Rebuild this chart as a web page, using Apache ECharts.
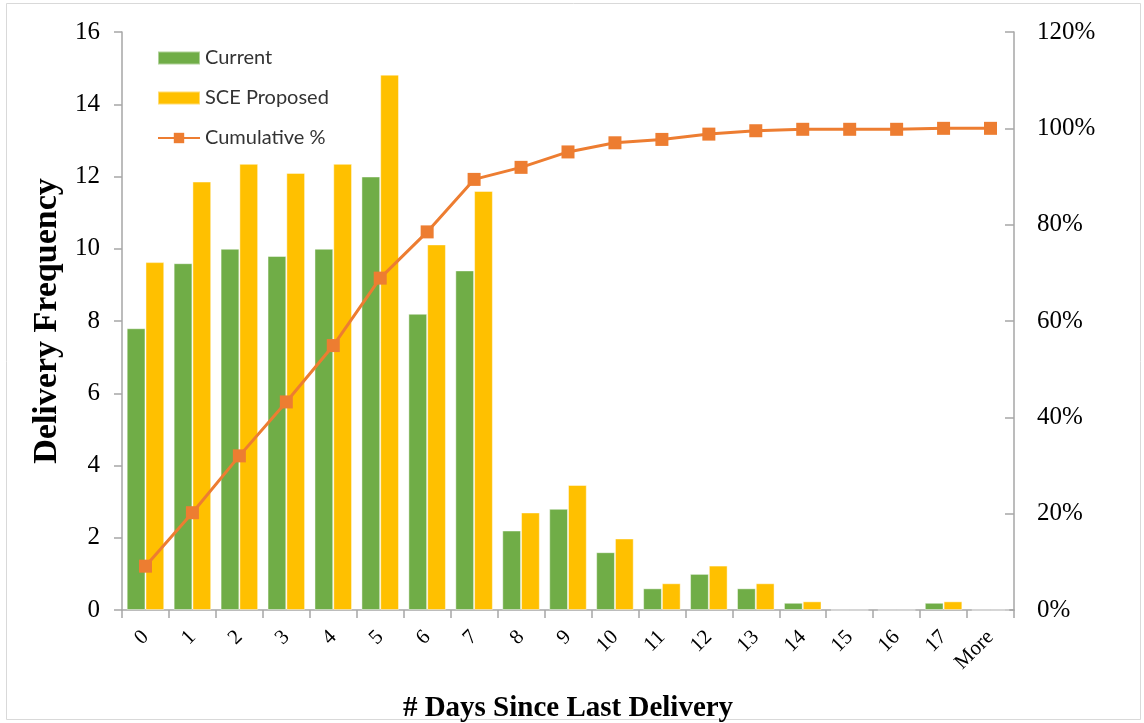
<!DOCTYPE html>
<html>
<head>
<meta charset="utf-8">
<script src="https://cdn.jsdelivr.net/npm/echarts@6/dist/echarts.min.js"></script>
<style>
  html, body { margin: 0; padding: 0; background: #fff; }
  #chart { width: 1144px; height: 723px; }
</style>
</head>
<body>
<div id="chart"></div>
<script>
// Days since last delivery (histogram bins)
const categories = ['0', '1', '2', '3', '4', '5', '6', '7', '8', '9', '10', '11', '12', '13', '14', '15', '16', '17', 'More'];
// Delivery frequency per bin
const currentValues = [7.8, 9.6, 10.0, 9.8, 10.0, 12.0, 8.2, 9.4, 2.2, 2.8, 1.6, 0.6, 1.0, 0.6, 0.2, 0, 0, 0.2, 0];
const proposedValues = [9.63, 11.86, 12.35, 12.1, 12.35, 14.82, 10.12, 11.6, 2.7, 3.46, 1.98, 0.74, 1.23, 0.74, 0.24, 0, 0, 0.24, 0];
// Cumulative share of deliveries, in percent
const cumulativePct = [9.1, 20.2, 32.0, 43.2, 54.9, 68.9, 78.5, 89.4, 91.9, 95.1, 97.0, 97.7, 98.8, 99.5, 99.8, 99.8, 99.8, 100, 100];
// Axis tick settings
const freqTicks = { min: 0, max: 16, interval: 2 };
const pctTicks = { min: 0, max: 120, interval: 20 };

const serif = '"Liberation Serif", "Times New Roman", serif';
const axisGray = '#A6A6A6';

const chart = echarts.init(document.getElementById('chart'), null, { renderer: 'canvas' });

chart.setOption({
  animation: false,
  backgroundColor: '#fff',
  graphic: [{
    type: 'rect',
    shape: { x: 6.5, y: 3.5, width: 1134, height: 716 },
    style: { fill: 'none', stroke: '#D9D9D9', lineWidth: 1 },
    silent: true,
    z: -1
  }],
  grid: { left: 122, right: 130, top: 32, bottom: 113, outerBoundsMode: 'none', containLabel: false },
  legend: {
    orient: 'vertical',
    left: 157,
    top: 47,
    padding: 0,
    itemWidth: 42,
    itemHeight: 13,
    itemGap: 18,
    textStyle: { fontFamily: 'Lato, "Noto Sans", sans-serif', fontSize: 20, color: '#333', lineHeight: 22 },
    data: [
      { name: 'Current', icon: 'rect' },
      { name: 'SCE Proposed', icon: 'rect' },
      { name: 'Cumulative %' }
    ]
  },
  xAxis: {
    type: 'category',
    data: categories,
    boundaryGap: true,
    name: '# Days Since Last Delivery',
    nameLocation: 'middle',
    nameGap: 84,
    nameTextStyle: { fontFamily: serif, fontSize: 29, fontWeight: 'bold', color: '#000' },
    axisLine: { lineStyle: { color: axisGray, width: 1.5 } },
    axisTick: { show: true, length: 8, lineStyle: { color: axisGray, width: 1.5 } },
    axisLabel: { rotate: 45, margin: 24, fontFamily: serif, fontSize: 21, color: '#000', interval: 0 },
    splitLine: { show: false }
  },
  yAxis: [
    {
      type: 'value',
      min: freqTicks.min,
      max: freqTicks.max,
      interval: freqTicks.interval,
      name: 'Delivery Frequency',
      nameLocation: 'middle',
      nameGap: 55,
      nameRotate: 90,
      nameTextStyle: { fontFamily: serif, fontSize: 34, fontWeight: 'bold', color: '#000' },
      axisLine: { show: true, lineStyle: { color: axisGray, width: 1.5 } },
      axisTick: { show: true, length: 8, lineStyle: { color: axisGray, width: 1.5 } },
      axisLabel: { margin: 22, fontFamily: serif, fontSize: 25, color: '#000' },
      splitLine: { show: false }
    },
    {
      type: 'value',
      min: pctTicks.min,
      max: pctTicks.max,
      interval: pctTicks.interval,
      position: 'right',
      axisLine: { show: true, lineStyle: { color: axisGray, width: 1.5 } },
      axisTick: { show: true, inside: true, length: 9, lineStyle: { color: axisGray, width: 1.5 } },
      axisLabel: { margin: 23, fontFamily: serif, fontSize: 25, color: '#000', formatter: '{value}%' },
      splitLine: { show: false }
    }
  ],
  series: [
    {
      name: 'Current',
      type: 'bar',
      data: currentValues,
      barGap: '0%',
      barCategoryGap: '20%',
      itemStyle: { color: '#70AD47', borderColor: 'rgba(255,255,255,0.45)', borderWidth: 1 }
    },
    {
      name: 'SCE Proposed',
      type: 'bar',
      data: proposedValues,
      barGap: '0%',
      barCategoryGap: '20%',
      itemStyle: { color: '#FFC000', borderColor: 'rgba(255,255,255,0.45)', borderWidth: 1 }
    },
    {
      name: 'Cumulative %',
      type: 'line',
      yAxisIndex: 1,
      data: cumulativePct,
      symbol: 'rect',
      symbolSize: 13,
      lineStyle: { color: '#ED7D31', width: 3 },
      itemStyle: { color: '#ED7D31', borderColor: '#ED7D31', borderWidth: 0 },
      z: 5
    }
  ]
});
</script>
</body>
</html>
